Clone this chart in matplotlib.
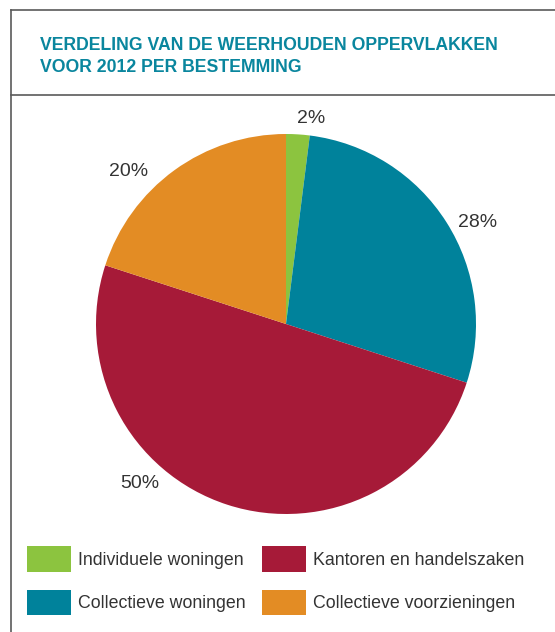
import matplotlib
matplotlib.use("Agg")
import matplotlib.pyplot as plt
import numpy as np

# data
categories = ["Individuele woningen", "Collectieve woningen",
              "Kantoren en handelszaken", "Collectieve voorzieningen"]
shares = [2, 28, 50, 20]
colors = ["#8CC43F", "#00829B", "#A61A38", "#E38C24"]
title = "VERDELING VAN DE WEERHOUDEN OPPERVLAKKEN\nVOOR 2012 PER BESTEMMING"

# label positions (angle in degrees, radius factor) chosen to match the layout
label_pos = [(83, 1.09), (28, 1.14), (-132.6, 1.14), (136, 1.155)]

W, H = 555, 632
fig = plt.figure(figsize=(W / 100, H / 100), dpi=100)
plt.rcParams['font.family'] = ['Liberation Sans', 'DejaVu Sans']

# frame lines
line_col = "#5a5a5a"
fig.add_artist(plt.Line2D([11 / W, 1], [1 - 10 / H, 1 - 10 / H], color=line_col, lw=1.2))
fig.add_artist(plt.Line2D([11 / W, 11 / W], [0, 1 - 10 / H], color=line_col, lw=1.2))
fig.add_artist(plt.Line2D([11 / W, 1], [1 - 95 / H, 1 - 95 / H], color=line_col, lw=1.2))

fig.text(40 / W, 1 - 37 / H, title, color="#0A869E", fontsize=12.7, fontweight="bold",
         va="top", ha="left", linespacing=1.4)

# pie axes: circle centre (286, 324), radius 190 px
cx, cy, r = 286, 324, 190
ax = fig.add_axes([(cx - r) / W, 1 - (cy + r) / H, 2 * r / W, 2 * r / H])
wedges, _ = ax.pie(shares, colors=colors, startangle=90, counterclock=False,
                   wedgeprops=dict(linewidth=0))
ax.set_xlim(-1, 1)
ax.set_ylim(-1, 1)
ax.set_aspect("equal")
ax.axis("off")

for s, (ang, rf) in zip(shares, label_pos):
    a = np.deg2rad(ang)
    ax.text(rf * np.cos(a), rf * np.sin(a), f"{s}%", ha="center", va="center",
            fontsize=14, color="#333333", clip_on=False)

leg = fig.legend(wedges, categories, ncol=2, loc="upper left",
                 bbox_to_anchor=(27 / W, 1 - 546 / H), frameon=False,
                 fontsize=12.8, handlelength=2.45, handleheight=1.85,
                 handletextpad=0.4, columnspacing=0.95, labelspacing=1.0,
                 borderpad=0, borderaxespad=0)
for t in leg.get_texts():
    t.set_color("#333333")
for h in leg.legend_handles:
    h.set_edgecolor("none")

fig.savefig("out.png", dpi=100)
